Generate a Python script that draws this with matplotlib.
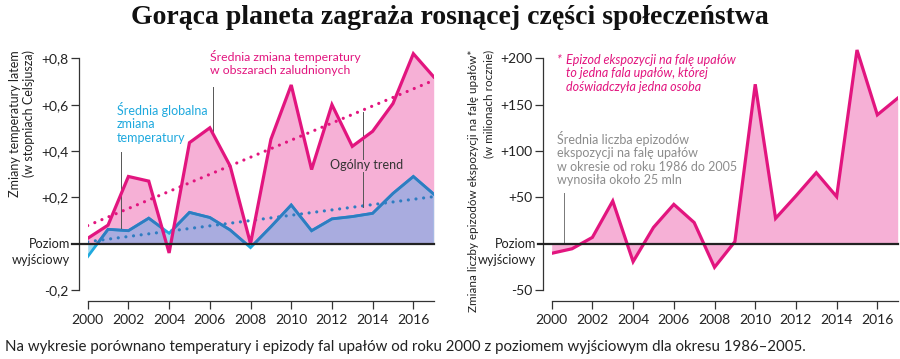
import numpy as np
import matplotlib.pyplot as plt
from matplotlib import transforms

plt.rcParams['font.family'] = ['Lato', 'DejaVu Sans']

# Data
years = np.arange(2000, 2018)
temp_populated = [0.023, 0.08, 0.29, 0.27, -0.04, 0.436, 0.50, 0.335, 0.0,
                  0.45, 0.685, 0.32, 0.60, 0.42, 0.485, 0.605, 0.82, 0.72]
temp_global = [-0.056, 0.062, 0.056, 0.11, 0.045, 0.135, 0.113, 0.059, -0.017,
               0.073, 0.167, 0.056, 0.107, 0.117, 0.131, 0.217, 0.29, 0.214]
trend_years = [2000, 2017]
trend_populated = [0.078, 0.705]
trend_global = [0.008, 0.203]
exposure = [-10.4, -5.5, 6.8, 46, -19.4, 17.5, 42.4, 22.8, -25.5,
            2.2, 172, 27.3, 51.5, 76.6, 50.7, 209, 139, 157]

left_ticks = [-0.2, 0.2, 0.4, 0.6, 0.8]
left_ticklabels = ['-0,2', '+0,2', '+0,4', '+0,6', '+0,8']
right_ticks = [-50, 50, 100, 150, 200]
right_ticklabels = ['-50', '+50', '+100', '+150', '+200']
year_ticks = list(range(2000, 2017, 2))

PINK = '#e2157f'
PINK_FILL = '#f6b0d6'
CYAN = '#1fa9de'
BLUE = '#2f7cc1'
LAVENDER = '#a9acdf'
LIGHT_CYAN = '#a3daf0'
GREY_TXT = '#8c8c8c'
DARK = '#222222'

fig = plt.figure(figsize=(9, 3.59), dpi=100)
W, H = 900, 359


def px_axes(x0, x1, ytop, ybot):
    return fig.add_axes([x0 / W, 1 - ybot / H, (x1 - x0) / W, (ybot - ytop) / H])


def style_axes(ax, ticks, labels, lo, hi):
    ax.set_xlim(2000, 2017)
    for s in ['top', 'right']:
        ax.spines[s].set_visible(False)
    ax.spines['left'].set_position(('outward', 6))
    ax.spines['bottom'].set_position(('outward', 8))
    ax.spines['left'].set_bounds(lo, hi)
    ax.spines['bottom'].set_bounds(2000, 2017)
    for s in ['left', 'bottom']:
        ax.spines[s].set_color('#333333')
        ax.spines[s].set_linewidth(0.9)
    ax.set_yticks(ticks)
    ax.set_yticklabels(labels)
    ax.set_xticks(year_ticks)
    ax.tick_params(axis='both', length=6, width=0.9, color='#333333',
                   labelsize=10, labelcolor=DARK)
    ax.tick_params(axis='y', pad=2)
    ax.tick_params(axis='x', pad=3)
    ax.patch.set_visible(False)


def baseline(ax, xfrac):
    ax.plot([xfrac, 1], [0, 0], transform=ax.get_yaxis_transform(),
            color=DARK, lw=1.6, clip_on=False, zorder=6)
    tr = ax.get_yaxis_transform()
    ax.text(xfrac - 0.005, 0, 'Poziom', transform=tr, ha='right', va='center',
            fontsize=9.2, color=DARK)
    off = transforms.offset_copy(tr, fig=fig, x=0, y=-16, units='dots')
    ax.text(xfrac - 0.005, 0, 'wyjściowy', transform=off, ha='right', va='center',
            fontsize=9.2, color=DARK)


DOTS = (0, (0.01, 2.4))

# ---------------- left chart: temperature ----------------
ax1 = px_axes(87.7, 433.7, 46.75, 290)
ax1.set_ylim(-0.2, 0.85)
style_axes(ax1, left_ticks, left_ticklabels, -0.2, 0.8)

pink_poly = ax1.fill_between(years, 0, temp_populated, color=PINK_FILL, lw=0, zorder=1)
clip_path = pink_poly.get_paths()[0]
ax1.fill_between(years, 0, temp_global, color=LIGHT_CYAN, lw=0, zorder=2)
lav = ax1.fill_between(years, 0, temp_global, color=LAVENDER, lw=0, zorder=2.1)
lav.set_clip_path(clip_path, transform=ax1.transData)

ax1.plot(trend_years, trend_populated, color=PINK, lw=2.3, ls=DOTS,
         dash_capstyle='round', zorder=3)
ax1.plot(trend_years, trend_global, color=BLUE, lw=2.3, ls=DOTS,
         dash_capstyle='round', zorder=3)

ax1.plot(years, temp_global, color=CYAN, lw=2, zorder=4, solid_joinstyle='miter')
dark_line, = ax1.plot(years, temp_global, color=BLUE, lw=2, zorder=4.1,
                      solid_joinstyle='miter')
dark_line.set_clip_path(clip_path, transform=ax1.transData)
ax1.plot(years, temp_populated, color=PINK, lw=2.3, zorder=5, solid_joinstyle='miter')

baseline(ax1, -0.045)

# annotations
ax1.plot([2006.17, 2006.17], [0.678, 0.478], color='#555555', lw=0.7, zorder=4.5)
ax1.text(2006.0, 0.835, 'Średnia zmiana temperatury\nw obszarach zaludnionych',
         color=PINK, fontsize=8.8, va='top', ha='left', linespacing=1.15)
ax1.plot([2001.62, 2001.62], [0.397, 0.066], color='#555555', lw=0.7, zorder=4.5)
ax1.text(2001.44, 0.612, 'Średnia globalna\nzmiana\ntemperatury',
         color=CYAN, fontsize=9, va='top', ha='left', linespacing=1.15)
ax1.plot([2013.55, 2013.55], [0.57, 0.365], color='#555555', lw=0.7, zorder=4.5)
ax1.plot([2013.55, 2013.55], [0.31, 0.16], color='#555555', lw=0.7, zorder=4.5)
ax1.text(2011.9, 0.338, 'Ogólny trend', color='#333333', fontsize=9,
         va='center', ha='left')

fig.text(22 / W, 1 - 50 / H, 'Zmiany temperatury latem\n(w stopniach Celsjusza)',
         rotation=90, ha='center', va='top', multialignment='right',
         fontsize=9, color=DARK, linespacing=1.1)

# ---------------- right chart: heat wave exposure ----------------
ax2 = px_axes(551.7, 897.7, 46.75, 290)
ax2.set_ylim(-50, 212.5)
style_axes(ax2, right_ticks, right_ticklabels, -50, 200)

ax2.fill_between(years, 0, exposure, color=PINK_FILL, lw=0, zorder=1)
ax2.plot(years, exposure, color=PINK, lw=2.3, zorder=5, solid_joinstyle='miter')
baseline(ax2, -0.04)

ax2.text(2000.25, 205, '*', color=PINK, fontsize=9, style='italic', va='top', ha='left')
ax2.text(2000.7, 205, 'Epizod ekspozycji na falę upałów\nto jedna fala upałów, której\n'
         'doświadczyła jedna osoba', color=PINK, fontsize=9, style='italic',
         va='top', ha='left', linespacing=1.15)
ax2.plot([2000.62, 2000.62], [54.7, 0], color='#777777', lw=0.7, zorder=4.5)
ax2.text(2000.25, 122, 'Średnia liczba epizodów\nekspozycji na falę upałów\n'
         'w okresie od roku 1986 do 2005\nwynosiła około 25 mln',
         color=GREY_TXT, fontsize=9, va='top', ha='left', linespacing=1.15)

fig.text(474 / W, 1 - 50 / H, 'Zmiana liczby epizodów ekspozycji na falę upałów*',
         rotation=90, ha='center', va='top', fontsize=8.4, color=DARK)
fig.text(489 / W, 1 - 50 / H, '(w milionach rocznie)',
         rotation=90, ha='center', va='top', fontsize=8.4, color=DARK)

# ---------------- title and footer ----------------
fig.text(0.5, 1 - 18 / H, 'Gorąca planeta zagraża rosnącej części społeczeństwa',
         ha='center', va='center', fontsize=20, fontweight='bold',
         family=['Liberation Serif', 'DejaVu Serif'], color='#111111')
fig.text(5 / W, 1 - 347 / H, 'Na wykresie porównano temperatury i epizody fal upałów '
         'od roku 2000 z poziomem wyjściowym dla okresu 1986–2005.',
         ha='left', va='center', fontsize=10.8, color=DARK)

fig.savefig('out.png', dpi=100)
